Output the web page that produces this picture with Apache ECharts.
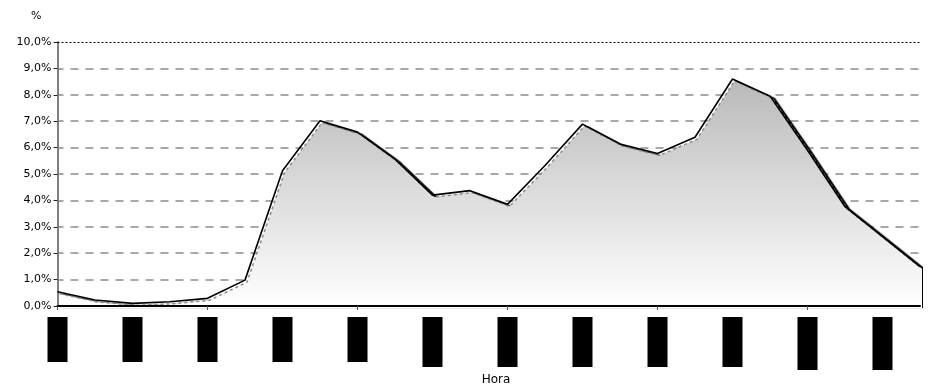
<!DOCTYPE html>
<html><head><meta charset="utf-8">
<script src="https://cdn.jsdelivr.net/npm/echarts@6/dist/echarts.min.js"></script>
<style>html,body{margin:0;padding:0;background:#fff}#c{width:928px;height:387px}</style>
</head><body><div id="c"></div>
<script>
// Categories: hour of day
const hours = ["0:00","1:00","2:00","3:00","4:00","5:00","6:00","7:00","8:00","9:00","10:00","11:00",
               "12:00","13:00","14:00","15:00","16:00","17:00","18:00","19:00","20:00","21:00","22:00","23:00"];
// Share of daily total per hour (%)
const shares = [0.54, 0.23, 0.10, 0.16, 0.29, 0.98, 5.12, 7.02, 6.59, 5.56, 4.20, 4.37,
                3.85, 5.32, 6.89, 6.14, 5.78, 6.39, 8.60, 7.95, 5.90, 3.76, 2.63, 1.49];
// Y tick labels
const yTickLabels = ["0,0%","1,0%","2,0%","3,0%","4,0%","5,0%","6,0%","7,0%","8,0%","9,0%","10,0%"];
const yUnit = "%";
const xTitle = "Hora";

const FONT = "'DejaVu Sans', Verdana, sans-serif";
const chart = echarts.init(document.getElementById('c'), null, {renderer: 'canvas'});

function labelStyle(h) {
  const n = parseInt(h, 10);
  return n < 10 ? 'a' : (n < 20 ? 'b' : 'c');
}
const box = w => ({width: w, height: 20, lineHeight: 20, backgroundColor: '#000', color: '#000',
                   fontSize: 11, fontFamily: FONT, align: 'center'});

chart.setOption({
  animation: false,
  backgroundColor: '#fff',
  grid: [
    {left: 57.5, right: 8, top: 42, bottom: 81},
    {left: 59.5, right: 6, top: 44, bottom: 79}
  ],
  xAxis: [
    {
      type: 'category', gridIndex: 0, data: hours, boundaryGap: false, z: 5,
      axisLine: {lineStyle: {color: '#000', width: 2}},
      axisTick: {interval: 3, length: 4, lineStyle: {color: '#555', width: 1}},
      axisLabel: {
        interval: 1, rotate: 90, margin: 11,
        formatter: v => '{' + labelStyle(v) + '|' + v + '}',
        rich: {a: box(45), b: box(50), c: box(53)}
      },
      splitLine: {show: false}
    },
    {type: 'category', gridIndex: 1, data: hours, boundaryGap: false, show: false}
  ],
  yAxis: [
    {
      type: 'value', gridIndex: 0, min: 0, max: 10, interval: 1,
      axisLine: {show: true, lineStyle: {color: '#808080', width: 2}},
      axisTick: {show: true, length: 4, lineStyle: {color: '#222', width: 1}},
      axisLabel: {margin: 6, color: '#000', fontSize: 11, fontFamily: FONT,
                  formatter: v => yTickLabels[Math.round(v)]},
      splitLine: {show: true, showMaxLine: false, showMinLine: false,
                  lineStyle: {color: '#a8a8a8', width: 2, type: [8, 7], dashOffset: 2}}
    },
    {type: 'value', gridIndex: 1, min: 0, max: 10, interval: 1, show: false, splitLine: {show: false}}
  ],
  graphic: [
    {type: 'text', left: 31, top: 11, style: {text: yUnit, fill: '#000', font: '11px ' + FONT}},
    {type: 'text', x: 496, y: 380, style: {text: xTitle, fill: '#000', font: '12px ' + FONT,
      textAlign: 'center', textVerticalAlign: 'middle'}}
  ],
  series: [
    {
      type: 'line', xAxisIndex: 1, yAxisIndex: 1, data: shares, symbol: 'none', clip: false, silent: true, z: 2,
      lineStyle: {color: '#8c8c8c', width: 1.5, type: [3, 3]},
      areaStyle: {
        color: new echarts.graphic.LinearGradient(0, 0, 0, 1, [
          {offset: 0, color: '#bababa'}, {offset: 1, color: '#ffffff'}]),
        shadowColor: '#000', shadowBlur: 1, shadowOffsetX: 3, shadowOffsetY: 0,
        opacity: 1
      }
    },
    {
      type: 'line', xAxisIndex: 0, yAxisIndex: 0, data: shares, symbol: 'none', silent: true, z: 3,
      lineStyle: {color: '#000', width: 1.6},
      markLine: {
        silent: true, symbol: 'none', label: {show: false},
        lineStyle: {type: [2, 2], color: '#000', width: 1},
        data: [{yAxis: 10}]
      }
    }
  ]
});
</script>
</body></html>
